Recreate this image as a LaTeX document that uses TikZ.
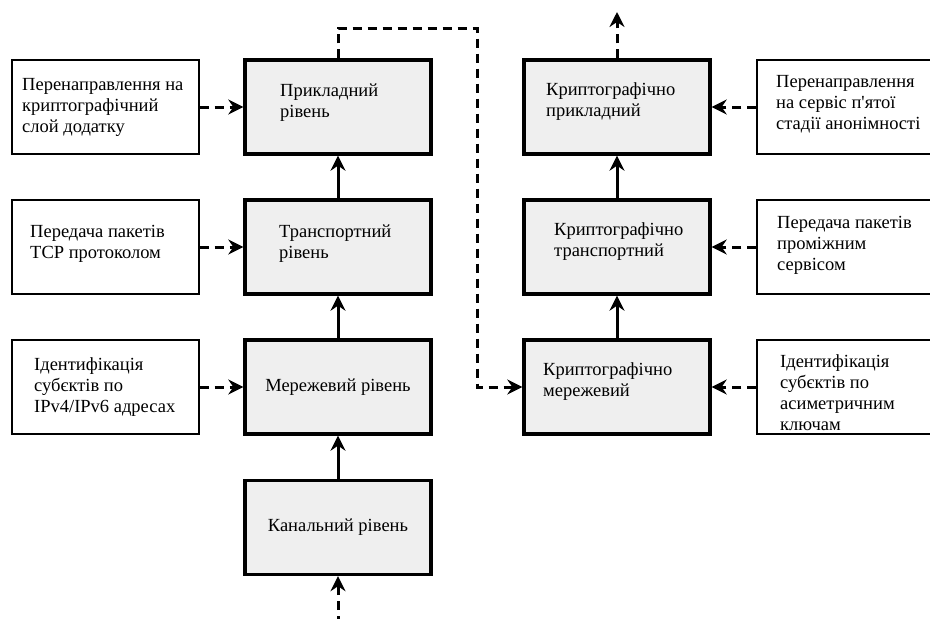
\documentclass[tikz,border=0pt]{standalone}
\usepackage{fontspec}
\setmainfont{Liberation Serif}
\usetikzlibrary{arrows.meta}
\definecolor{boxgray}{HTML}{EFEFEF}
\tikzset{
  layer/.style={draw, line width=3.4pt, fill=boxgray, minimum width=186pt, minimum height=94pt, inner sep=0pt, font=\fontsize{18.5}{21}\selectfont},
  note/.style={draw, line width=1.4pt, fill=white, minimum width=187pt, minimum height=94pt, inner sep=0pt},
  txt/.style={anchor=west, align=left, inner sep=0pt, font=\fontsize{18.5}{21}\selectfont},
  conn/.style={line width=3pt, -{Stealth[length=15pt,width=15pt,inset=5pt]}},
  dconn/.style={conn, dash pattern=on 9pt off 6pt}
}
\begin{document}
\begin{tikzpicture}[x=1pt,y=-1pt]
\useasboundingbox (0,0) rectangle (930,619);
\clip (0,0) rectangle (930,619);
\fill[white] (0,0) rectangle (930,619);
% layer boxes left
\node[layer] (L1) at (338,107) {};
\node[layer] (L2) at (338,247) {};
\node[layer] (L3) at (338,387) {Мережевий рівень};
\node[layer] (L4) at (338,527.5) {Канальний рівень};
% layer boxes right
\node[layer] (R1) at (617,107) {};
\node[layer] (R2) at (617,247) {};
\node[layer] (R3) at (617,387) {};
% notes left
\node[note] (N1) at (105.5,107) {};
\node[note] (N2) at (105.5,247) {};
\node[note] (N3) at (105.5,387) {};
% notes right (cut by the right edge)
\node[note, minimum width=203pt] (M1) at (858.5,107) {};
\node[note, minimum width=203pt] (M2) at (858.5,247) {};
\node[note, minimum width=203pt] (M3) at (858.5,387) {};
% texts
\node[txt] (tL1) at (280,103) {Прикладний\\рівень};
\node[txt] (tL2) at (279,244) {Транспортний\\рівень};
\node[txt] (tR1) at (546,102) {Криптографічно\\прикладний};
\node[txt] (tR2) at (554,241.5) {Криптографічно\\транспортний};
\node[txt] (tR3) at (543,382) {Криптографічно\\мережевий};
\node[txt] (tN1) at (22,107) {Перенаправлення на\\криптографічний\\слой додатку};
\node[txt] (tN2) at (30,244) {Передача пакетів\\TCP протоколом};
\node[txt] (tN3) at (34,387) {Ідентифікація\\субєктів по\\IPv4/IPv6 адресах};
\node[txt] (tM1) at (776,104) {Перенаправлення\\на сервіс п\textquotesingle ятої\\стадії анонімності};
\node[txt] (tM2) at (777,245) {Передача пакетів\\проміжним\\сервісом};
\node[txt] (tM3) at (780,392.5) {Ідентифікація\\субєктів по\\асиметричним\\ключам};
% solid connectors
\draw[conn] (L2.north) -- (L1.south);
\draw[conn] (L3.north) -- (L2.south);
\draw[conn] (L4.north) -- (L3.south);
\draw[conn] (R3.north) -- (R2.south);
\draw[conn] (R2.north) -- (R1.south);
% dashed connectors
\draw[dconn] (N1.east) -- (L1.west);
\draw[dconn] (N2.east) -- (L2.west);
\draw[dconn] (N3.east) -- (L3.west);
\draw[dconn] (M1.west) -- (R1.east);
\draw[dconn] (M2.west) -- (R2.east);
\draw[dconn] (M3.west) -- (R3.east);
\coordinate (top) at (617,12);
\draw[dconn] (R1.north) -- (top);
\coordinate (bot) at (338,625);
\draw[dconn] (bot) -- (L4.south);
\coordinate (loopA) at (338,28);
\coordinate (loopB) at (477,387);
\draw[dconn] (L1.north) -- (loopA) -| (loopB) -- (R3.west);
\end{tikzpicture}
\end{document}
